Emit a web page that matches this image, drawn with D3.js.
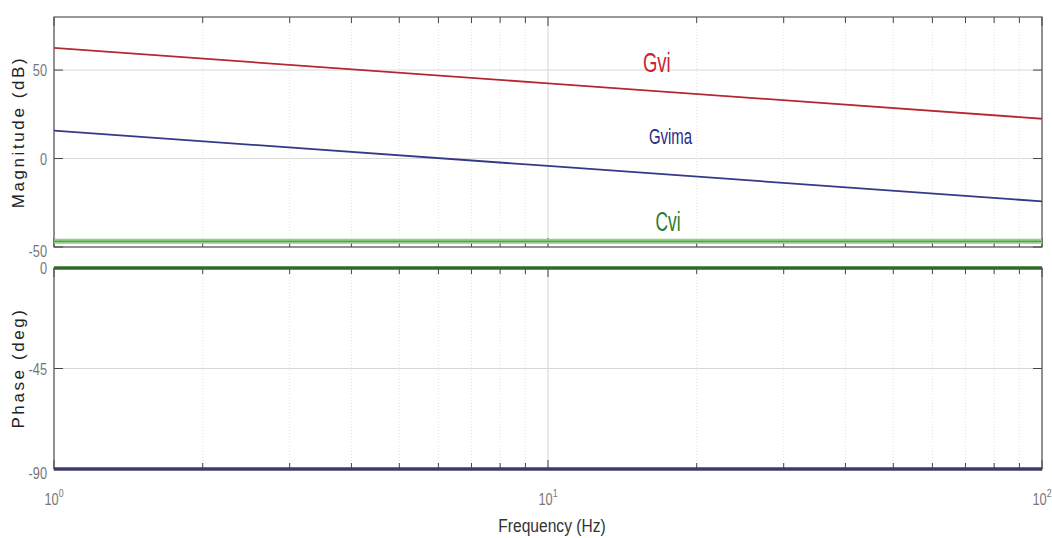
<!DOCTYPE html>
<html>
<head>
<meta charset="utf-8">
<script src="https://cdn.jsdelivr.net/npm/d3@7"></script>
<style>
  body { margin: 0; background: #fff; }
  text { font-family: "Liberation Sans", Arial, sans-serif; }
</style>
</head>
<body>
<svg id="chart" width="1052" height="538"></svg>
<script>
// frequencies (Hz) and read values
var freqs = [1, 10, 100];
var gviMag = [62.5, 42.5, 22.5];
var gvimaMag = [15.8, -4.2, -24.2];
var cviMag = [-46.8, -46.8, -46.8];
var cviPhase = [0, 0, 0];
var gviPhase = [-90, -90, -90];
var magTicks = [-50, 0, 50];
var phaseTicks = [-90, -45, 0];
var decadeTicks = [1, 10, 100];

var svg = d3.select('#chart');
var L = 54, R = 1042;

var x = d3.scaleLog().domain([1, 100]).range([L, R]);
var yMag = d3.scaleLinear().domain([-50, 80]).range([247, 17]);
var yPh = d3.scaleLinear().domain([-90, 0]).range([469, 268]);

var minorTicks = [];
[1, 10].forEach(function(d) {
  for (var k = 2; k <= 9; k++) minorTicks.push(d * k);
});

// narrow text helper: positions via transform, squeezes horizontally
function narrow(sel, sx) {
  return sel.attr('transform', function(d) {
    var p = this.__pos;
    return 'translate(' + p[0] + ',' + p[1] + ') scale(' + sx + ',1)';
  });
}

function panel(y, ticks) {
  var g = svg.append('g');
  var y0 = y.range()[0], y1 = y.range()[1];
  g.selectAll('.mg').data(minorTicks).enter().append('line')
    .attr('x1', function(d) { return x(d); }).attr('x2', function(d) { return x(d); })
    .attr('y1', y1).attr('y2', y0)
    .attr('stroke', '#e4e4e4').attr('stroke-dasharray', '1,2');
  g.selectAll('.Mg').data(decadeTicks).enter().append('line')
    .attr('x1', function(d) { return x(d); }).attr('x2', function(d) { return x(d); })
    .attr('y1', y1).attr('y2', y0)
    .attr('stroke', '#d4d4d4');
  g.selectAll('.hg').data(ticks).enter().append('line')
    .attr('x1', L).attr('x2', R)
    .attr('y1', function(d) { return y(d); }).attr('y2', function(d) { return y(d); })
    .attr('stroke', '#d8d8d8');
  var allX = decadeTicks.concat(minorTicks);
  g.selectAll('.tb').data(allX).enter().append('line')
    .attr('x1', function(d) { return x(d); }).attr('x2', function(d) { return x(d); })
    .attr('y1', y0).attr('y2', function(d) { return y0 - (decadeTicks.indexOf(d) >= 0 ? 9 : 6); })
    .attr('stroke', '#444');
  g.selectAll('.tt').data(allX).enter().append('line')
    .attr('x1', function(d) { return x(d); }).attr('x2', function(d) { return x(d); })
    .attr('y1', y1).attr('y2', function(d) { return y1 + (decadeTicks.indexOf(d) >= 0 ? 9 : 6); })
    .attr('stroke', '#444');
  g.selectAll('.tl').data(ticks).enter().append('line')
    .attr('x1', L).attr('x2', L + 9)
    .attr('y1', function(d) { return y(d); }).attr('y2', function(d) { return y(d); })
    .attr('stroke', '#444');
  g.selectAll('.tr').data(ticks).enter().append('line')
    .attr('x1', R).attr('x2', R - 9)
    .attr('y1', function(d) { return y(d); }).attr('y2', function(d) { return y(d); })
    .attr('stroke', '#444');
  g.append('rect').attr('x', L).attr('y', y1).attr('width', R - L).attr('height', y0 - y1)
    .attr('fill', 'none').attr('stroke', '#555').attr('stroke-width', 1.2);
  var lab = g.selectAll('.yl').data(ticks).enter().append('text')
    .each(function(d) {
      var off = (y(d) >= y0 - 1) ? 10 : 6;
      this.__pos = [L - 7, y(d) + off];
    })
    .attr('text-anchor', 'end').attr('font-size', 16).attr('fill', '#777')
    .text(function(d) { return d; });
  narrow(lab, 0.8);
  return g;
}

panel(yMag, magTicks);
panel(yPh, phaseTicks);

var line = function(y) {
  return d3.line().x(function(d) { return x(d[0]); }).y(function(d) { return y(d[1]); });
};
function zipv(vals) { return freqs.map(function(f, i) { return [f, vals[i]]; }); }

// magnitude curves
svg.append('path').datum(zipv(cviMag)).attr('d', line(yMag))
  .attr('fill', 'none').attr('stroke', '#93cc86').attr('stroke-width', 5);
svg.append('path').datum(zipv(cviMag)).attr('d', line(yMag))
  .attr('fill', 'none').attr('stroke', '#5a9e4f').attr('stroke-width', 1.3);
svg.append('path').datum(zipv(gviMag)).attr('d', line(yMag))
  .attr('fill', 'none').attr('stroke', '#d0323c').attr('stroke-width', 1.8);
svg.append('path').datum(zipv(gviMag)).attr('d', line(yMag))
  .attr('fill', 'none').attr('stroke', '#5a1a20').attr('stroke-width', 0.6).attr('opacity', 0.6);
svg.append('path').datum(zipv(gvimaMag)).attr('d', line(yMag))
  .attr('fill', 'none').attr('stroke', '#35378a').attr('stroke-width', 1.8);

// phase curves
svg.append('path').datum(zipv(cviPhase)).attr('d', line(yPh))
  .attr('fill', 'none').attr('stroke', '#2f6a2c').attr('stroke-width', 3.5);
svg.append('path').datum(zipv(gviPhase)).attr('d', line(yPh))
  .attr('fill', 'none').attr('stroke', '#3a3b6a').attr('stroke-width', 3.5);

// curve labels
var labels = [
  { t: 'Gvi', f: 16.6, v: 48.9, c: '#cc2230', s: 28, k: 0.66 },
  { t: 'Gvima', f: 17.7, v: 8.5, c: '#2a2b85', s: 22, k: 0.68 },
  { t: 'Cvi', f: 17.5, v: -41, c: '#2c7a2c', s: 28, k: 0.62 }
];
svg.selectAll('.lbl').data(labels).enter().append('text')
  .attr('transform', function(d) {
    return 'translate(' + x(d.f) + ',' + yMag(d.v) + ') scale(' + d.k + ',1)';
  })
  .attr('text-anchor', 'middle').attr('font-size', function(d) { return d.s; })
  .attr('fill', function(d) { return d.c; })
  .text(function(d) { return d.t; });

// x tick labels 10^n
var xl = svg.selectAll('.xl').data(decadeTicks).enter().append('text')
  .each(function(d) { this.__pos = [x(d), 505]; })
  .attr('text-anchor', 'middle').attr('font-size', 16).attr('fill', '#777');
xl.append('tspan').text('10');
xl.append('tspan').attr('dy', -8).attr('font-size', 11)
  .text(function(d) { return Math.round(Math.log10(d)); });
narrow(xl, 0.8);

// axis titles
var xt = svg.append('text').datum(0)
  .each(function() { this.__pos = [552, 532]; })
  .attr('text-anchor', 'middle').attr('font-size', 19).attr('fill', '#333').text('Frequency  (Hz)');
narrow(xt, 0.82);
svg.append('text').attr('transform', 'translate(24,' + 132 + ') rotate(-90)')
  .attr('text-anchor', 'middle').attr('font-size', 17).attr('fill', '#222')
  .attr('letter-spacing', 2.6)
  .text('Magnitude (dB)');
svg.append('text').attr('transform', 'translate(24,' + 368 + ') rotate(-90)')
  .attr('text-anchor', 'middle').attr('font-size', 17).attr('fill', '#222')
  .attr('letter-spacing', 2.6)
  .text('Phase (deg)');
</script>
</body>
</html>
